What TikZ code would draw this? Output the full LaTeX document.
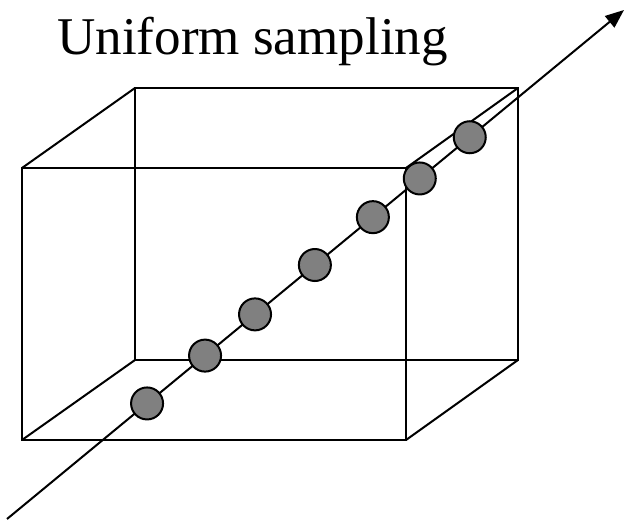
\documentclass[tikz,border=0pt]{standalone}
\usepackage{fontspec}
\setmainfont{Liberation Serif}
\usetikzlibrary{arrows.meta,calc}

\tikzset{
  edge/.style={line width=1.5pt, line join=miter},
  sample/.style={circle, draw, line width=1.5pt, fill=black!50, minimum size=24pt, inner sep=0pt}
}

\begin{document}
\begin{tikzpicture}[x=0.75pt, y=-0.75pt, >={Triangle[length=14pt,width=11pt]}]
    \useasboundingbox (0,0) rectangle (626,520);

    % Title
    \node[anchor=base west, inner sep=0pt, font=\fontsize{39.8pt}{44pt}\selectfont] (title) at (57,55) {Uniform sampling};

    % Box corners (front face, back face)
    \coordinate (f1) at (22,168);
    \coordinate (f2) at (406,168);
    \coordinate (f3) at (406,440);
    \coordinate (f4) at (22,440);
    \coordinate (b1) at (135,88);
    \coordinate (b2) at (518,88);
    \coordinate (b3) at (518,360);
    \coordinate (b4) at (135,360);

    % Draw the box
    \draw[edge] (f1) -- (f2) -- (f3) -- (f4) -- cycle;
    \draw[edge] (b1) -- (b2) -- (b3) -- (b4) -- cycle;
    \draw[edge] (f1) -- (b1);
    \draw[edge] (f2) -- (b2);
    \draw[edge] (f3) -- (b3);
    \draw[edge] (f4) -- (b4);

    % Ray through the box
    \coordinate (start) at (7,519);
    \coordinate (end) at (624,10);
    \draw[line width=1.5pt, ->] (start) -- (end);

    % Samples along the ray
    \foreach \t [count=\i] in {0.227,0.321,0.402,0.499,0.593,0.669,0.750}
        \node[sample] (s\i) at ($(start)!\t!(end)$) {};
\end{tikzpicture}
\end{document}
